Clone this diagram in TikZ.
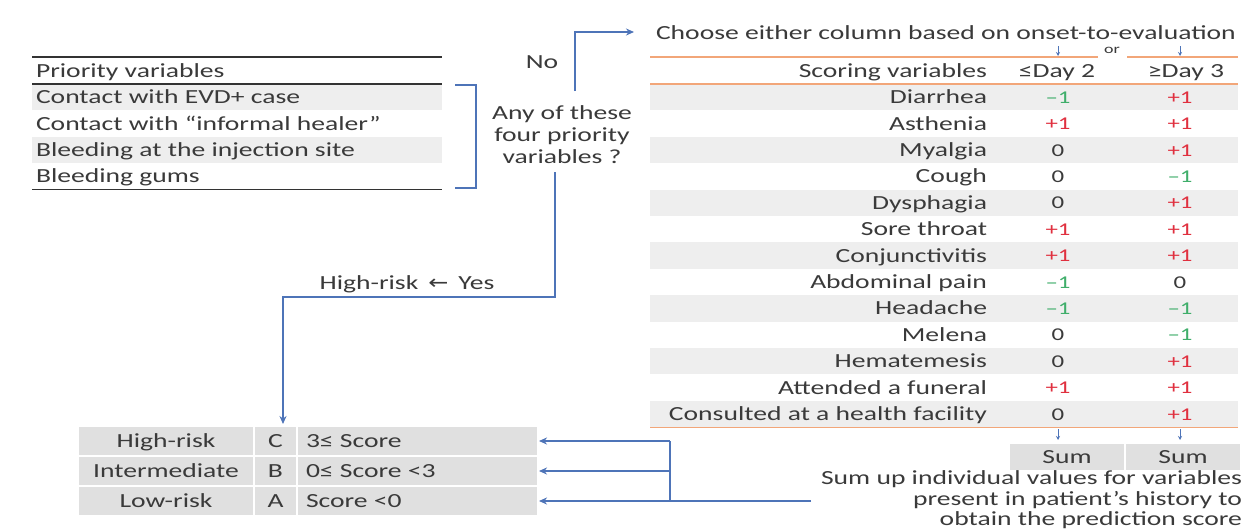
\documentclass[tikz,border=0pt]{standalone}
\usepackage{fontspec}
\setmainfont{Carlito}[FakeStretch=1.38]
\newfontfamily\arrowfont{DejaVu Sans}[FakeStretch=1.2]
\usetikzlibrary{arrows.meta}
\definecolor{txtc}{HTML}{3A3A3A}
\definecolor{flowblue}{HTML}{4E74B8}
\definecolor{orangeline}{HTML}{F2A679}
\definecolor{rowgray}{HTML}{EEEEEE}
\definecolor{cellgray}{HTML}{E0E0E0}
\definecolor{posred}{HTML}{E0303F}
\definecolor{neggreen}{HTML}{3FAE6A}
\newcommand\scorep{\textcolor{posred}{+1}}
\newcommand\scorem{\textcolor{neggreen}{–1}}
\newcommand\scorez{0}
\begin{document}
\begin{tikzpicture}[x=1pt,y=-1pt,
  every node/.style={inner sep=0pt,outer sep=0pt,text=txtc},
  txt/.style={font=\fontsize{20}{22}\selectfont},
  valtxt/.style={font=\fontsize{18}{20}\selectfont},
  smalltxt/.style={font=\fontsize{13}{14}\selectfont},
  flow/.style={draw=flowblue,line width=1.8pt},
  flowarrow/.style={flow,-{Stealth[length=8pt,width=7pt]}},
  tinyarrow/.style={draw=flowblue,line width=0.9pt,-{Stealth[length=4pt,width=4pt]}},
  tabrule/.style={draw=black!80,line width=1.6pt},
  orule/.style={draw=orangeline,line width=1.3pt}]
\useasboundingbox (0,0) rectangle (1250,530);
\fill[white] (0,0) rectangle (1250,530);

% ---------- title ----------
\node[txt,anchor=base west] (title) at (656,39.5) {Choose either column based on onset-to-evaluation};

% ---------- priority table ----------
\fill[rowgray] (32,84) rectangle (442,110.4);
\fill[rowgray] (32,136.8) rectangle (442,163.2);
\draw[tabrule] (32,57) -- (442,57);
\draw[tabrule,line width=1.2pt] (32,84) -- (442,84);
\draw[tabrule] (32,189.6) -- (442,189.6);
\node[txt,anchor=base west] (pvhead) at (36,77.5) {Priority variables};
\node[txt,anchor=base west] (pv1) at (36,103.7) {Contact with EVD+ case};
\node[txt,anchor=base west] (pv2) at (36,130.1) {Contact with “informal healer”};
\node[txt,anchor=base west] (pv3) at (36,156.5) {Bleeding at the injection site};
\node[txt,anchor=base west] (pv4) at (36,182.9) {Bleeding gums};
\draw[flow] (455,85) -- (476,85) -- (476,188) -- (455,188);

% ---------- question ----------
\node[txt,anchor=base] (q1) at (562,119.5) {Any of these};
\node[txt,anchor=base] (q2) at (562,141.5) {four priority};
\node[txt,anchor=base] (q3) at (562,163.5) {variables ?};
\node[txt,anchor=base] (no) at (542,68.5) {No};
\coordinate (noStart) at (575,91);
\coordinate (noEnd) at (634,32);
\draw[flowarrow] (noStart) |- (noEnd);

\node[txt,anchor=base] (yes) at (407,289.5) {High-risk\enspace{\arrowfont ←}\enspace Yes};
\coordinate (yesStart) at (555,172);
\coordinate (yesBend) at (283,297);
\coordinate (yesEnd) at (283,424);
\draw[flowarrow] (yesStart) |- (yesBend) -- (yesEnd);

% ---------- scoring table ----------
\foreach \i in {0,2,...,12}
  \fill[rowgray] (650,{84+26.4*\i}) rectangle (1238,{84+26.4*(\i+1)});
\draw[orule] (650,57) -- (1098,57);
\draw[orule] (1127,57) -- (1238,57);
\draw[orule] (650,84) -- (1238,84);
\draw[orule] (650,427.2) -- (1238,427.2);
\node[smalltxt,anchor=base] (ortxt) at (1112,53) {or};
\node[txt,anchor=base east] (schead) at (987,77.5) {Scoring variables};
\node[txt,anchor=base] (d2head) at (1057,77.5) {≤Day 2};
\node[txt,anchor=base] (d3head) at (1186,77.5) {≥Day 3};
\coordinate (d2top) at (1058,46);
\coordinate (d3top) at (1180,46);
\draw[tinyarrow] (d2top) -- ++(0,10);
\draw[tinyarrow] (d3top) -- ++(0,10);

\foreach \lab/\a/\b [count=\i from 0] in {
  Diarrhea/m/p, Asthenia/p/p, Myalgia/z/p, Cough/z/m, Dysphagia/z/p,
  Sore throat/p/p, Conjunctivitis/p/p, Abdominal pain/m/z, Headache/m/m,
  Melena/z/m, Hematemesis/z/p, Attended a funeral/p/p,
  Consulted at a health facility/z/p}{
  \node[txt,anchor=base east] (lab\i) at (987,{97.2+26.4*\i+6.5}) {\lab};
  \node[valtxt,anchor=base] (dtwo\i) at (1058,{97.2+26.4*\i+6}) {\csname score\a\endcsname};
  \node[valtxt,anchor=base] (dthree\i) at (1180,{97.2+26.4*\i+6}) {\csname score\b\endcsname};
}

% ---------- sums ----------
\fill[cellgray] (1010,444) rectangle (1124,470);
\fill[cellgray] (1126,444) rectangle (1240,470);
\node[txt,anchor=base] (sum2) at (1067,463.5) {Sum};
\node[txt,anchor=base] (sum3) at (1183,463.5) {Sum};
\draw[tinyarrow] (dtwo12.south |- 0,429) -- (dtwo12.south |- 0,440);
\draw[tinyarrow] (dthree12.south |- 0,429) -- (dthree12.south |- 0,440);
\node[txt,anchor=base east] (note1) at (1242,484.5) {Sum up individual values for variables};
\node[txt,anchor=base east] (note2) at (1242,505) {present in patient’s history to};
\node[txt,anchor=base east] (note3) at (1242,525) {obtain the prediction score};

% ---------- risk table ----------
\foreach \y in {426,456,486}{
  \fill[cellgray] (79,{\y+1}) rectangle (253,{\y+29});
  \fill[cellgray] (255,{\y+1}) rectangle (296,{\y+29});
  \fill[cellgray] (298,{\y+1}) rectangle (537,{\y+29});
}
\node[txt,anchor=base] (r1a) at (166,447.5) {High-risk};
\node[txt,anchor=base] (r1b) at (275.5,447.5) {C};
\node[txt,anchor=base west] (r1c) at (306,447.5) {3≤ Score};
\node[txt,anchor=base] (r2a) at (166,477.5) {Intermediate};
\node[txt,anchor=base] (r2b) at (275.5,477.5) {B};
\node[txt,anchor=base west] (r2c) at (306,477.5) {0≤ Score <3};
\node[txt,anchor=base] (r3a) at (166,507.5) {Low-risk};
\node[txt,anchor=base] (r3b) at (275.5,507.5) {A};
\node[txt,anchor=base west] (r3c) at (306,507.5) {Score <0};

\coordinate (barTop) at (670,441);
\coordinate (barBot) at (670,501);
\coordinate (lowStart) at (811,501);
\draw[flow] (barTop) -- (barBot);
\draw[flowarrow] (barTop) -- (539,441);
\draw[flowarrow] (670,471) -- (539,471);
\draw[flowarrow] (lowStart) -- (539,501);
\end{tikzpicture}
\end{document}
